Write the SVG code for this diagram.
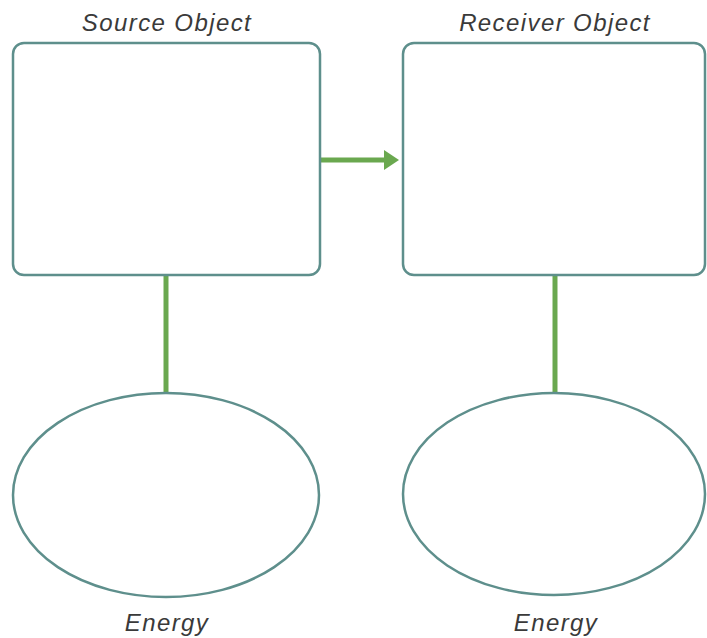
<svg xmlns="http://www.w3.org/2000/svg" width="707" height="638" viewBox="0 0 707 638">
<defs>
<style>
.node{fill:#ffffff;stroke:#5e8f8c;stroke-width:2.5}
.conn{stroke:#6aa84f;stroke-width:5;fill:none}
.lbl{font-family:"Liberation Sans",Arial,sans-serif;font-size:24px;font-style:italic;letter-spacing:1.4px;fill:#3a3a3a;text-anchor:middle}
</style>
<marker id="arr" markerWidth="4" markerHeight="4" refX="1" refY="2" orient="auto" markerUnits="strokeWidth">
<path d="M0,0 L3,2 L0,4 Z" fill="#6aa84f"/>
</marker>
</defs>
<rect width="707" height="638" fill="#ffffff"/>
<g id="connectors">
<line class="conn" x1="321" y1="160" x2="389" y2="160" marker-end="url(#arr)"/>
<line class="conn" x1="166" y1="276" x2="166" y2="393"/>
<line class="conn" x1="555" y1="276" x2="555" y2="393"/>
</g>
<g id="source">
<rect class="node" x="13" y="43" width="307" height="232" rx="11"/>
<text class="lbl" x="167" y="31">Source Object</text>
</g>
<g id="receiver">
<rect class="node" x="403" y="43" width="302" height="232" rx="11"/>
<text class="lbl" x="555" y="31">Receiver Object</text>
</g>
<g id="energy1">
<ellipse class="node" cx="166" cy="495" rx="153" ry="102"/>
<text class="lbl" x="167" y="631">Energy</text>
</g>
<g id="energy2">
<ellipse class="node" cx="554" cy="494" rx="151" ry="101"/>
<text class="lbl" x="556" y="631">Energy</text>
</g>
</svg>
